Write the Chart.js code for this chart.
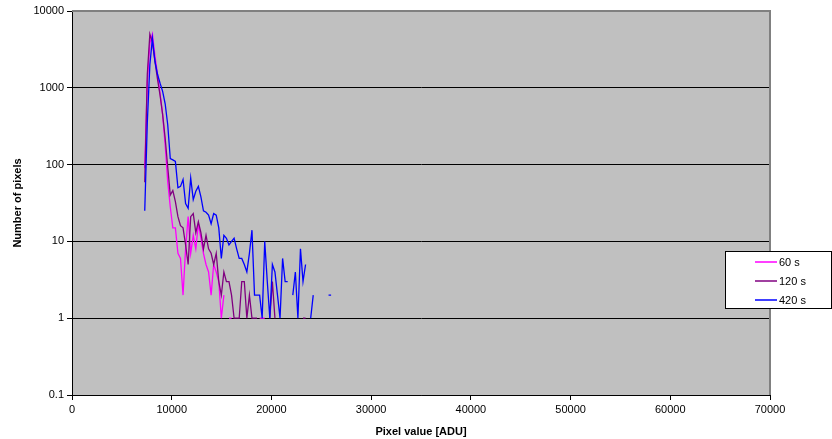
<!DOCTYPE html>
<html>
<head>
<meta charset="utf-8">
<script src="https://cdn.jsdelivr.net/npm/chart.js@4.4.0/dist/chart.umd.min.js"></script>
<style>
  html, body { margin: 0; padding: 0; background: #fff; }
</style>
</head>
<body>
<canvas id="hist" width="832" height="439"></canvas>
<script>
// histogram bin centres (ADU), 256 ADU wide
const binAdu = [
  7296, 7552, 7808, 8064, 8320, 8576, 8832, 9088, 9344, 9600,
  9856, 10112, 10368, 10624, 10880, 11136, 11392, 11648, 11904, 12160,
  12416, 12672, 12928, 13184, 13440, 13696, 13952, 14208, 14464, 14720,
  14976, 15232, 15488, 15744, 16000, 16256, 16512, 16768, 17024, 17280,
  17536, 17792, 18048, 18304, 18560, 18816, 19072, 19328, 19584, 19840,
  20096, 20352, 20608, 20864, 21120, 21376, 21632, 21888, 22144, 22400,
  22656, 22912, 23168, 23424, 23680, 23936, 24192, 24448, 24704, 24960,
  25216, 25472, 25728, 25984
];

// pixel counts per bin, null = empty bin (no point on a log axis)
const counts60 = [
  90, 1200, 3800, 5000, 2600, 1500, 850, 450, 180, 60,
  28, 15, 15, 7, 6, 2, 8, 21, 7, 12,
  8, 17, 11, 7, 5, 4, 2, 5, 4, 3,
  1, 2, null, 1, 1, null, null, null, null, null,
  null, null, null, null, null, 1, 1, 1, null, null,
  null, null, null, null, null, null, null, null, null, null,
  null, null, null, null, null, null, null, null, null, null,
  null, null, null, null
];
const counts120 = [
  59, 1500, 5000, 3900, 2200, 1300, 800, 450, 220, 93,
  40, 46, 33, 21, 16, 15, 9, 5, 21, 23,
  13, 18, 13, 8, 12, 8, 7, 5, 7, 3,
  2, 4, 3, 3, 2, 1, 1, 1, 3, 3,
  1, 2, 1, 1, 1, null, null, null, null, 1,
  3, 1, null, null, null, null, null, null, null, null,
  null, null, 1, 1, null, null, null, null, null, null,
  null, null, null, null
];
const counts420 = [
  25, 350, 2000, 4400, 2200, 1500, 1150, 900, 620, 330,
  120, 115, 110, 50, 52, 64, 31, 27, 67, 35,
  45, 52, 38, 25, 24, 22, 17, 23, 22, 15,
  6, 12, 11, 9, 10, 11, 8, 6, 6, 5,
  4, 7, 14, 2, 2, 2, 1, 10, 3, 1,
  5, 4, 2, 1, 6, 3, 3, null, 2, 4,
  1, 8, 3, 5, null, 1, 2, null, null, null,
  null, null, 2, 2
];

const seriesNames = ['60 s', '120 s', '420 s'];
const seriesColors = ['#ff00ff', '#800080', '#0000ff'];
const yTicks = [0.1, 1, 10, 100, 1000, 10000];

const font = "'Liberation Sans', Arial, sans-serif";
Chart.defaults.font.family = font;
Chart.defaults.color = '#000';

function points(counts) {
  return binAdu.map((x, i) => ({ x: x, y: counts[i] }));
}

const plotBg = {
  id: 'plotBg',
  beforeDraw(chart) {
    const { ctx, chartArea: a } = chart;
    ctx.save();
    ctx.fillStyle = '#fff';
    ctx.fillRect(0, 0, chart.width, chart.height);
    ctx.fillStyle = '#c0c0c0';
    ctx.fillRect(a.left, a.top, a.right - a.left, a.bottom - a.top);
    ctx.restore();
  },
  afterDraw(chart) {
    const { ctx, chartArea: a } = chart;
    ctx.save();
    // grey frame on the top and right of the plot
    ctx.strokeStyle = '#808080';
    ctx.lineWidth = 2;
    ctx.beginPath();
    ctx.moveTo(a.left, a.top);
    ctx.lineTo(a.right, a.top);
    ctx.lineTo(a.right, a.bottom);
    ctx.stroke();

    // legend box
    const lx = 725.5, ly = 251.5, lw = 106, lh = 57;
    ctx.fillStyle = '#fff';
    ctx.fillRect(lx, ly, lw, lh);
    ctx.strokeStyle = '#000';
    ctx.lineWidth = 1;
    ctx.strokeRect(lx, ly, lw, lh);
    ctx.font = '11px ' + font;
    ctx.textBaseline = 'middle';
    ctx.fillStyle = '#000';
    chart.data.datasets.forEach((ds, i) => {
      const y = 262 + i * 19;
      ctx.strokeStyle = ds.borderColor;
      ctx.lineWidth = 1.5;
      ctx.beginPath();
      ctx.moveTo(755, y);
      ctx.lineTo(777, y);
      ctx.stroke();
      ctx.fillText(ds.label, 779, y + 0.5);
    });
    ctx.restore();
  }
};

new Chart(document.getElementById('hist').getContext('2d'), {
  type: 'line',
  data: {
    datasets: [
      { label: seriesNames[0], data: points(counts60), borderColor: seriesColors[0], order: 3 },
      { label: seriesNames[1], data: points(counts120), borderColor: seriesColors[1], order: 2 },
      { label: seriesNames[2], data: points(counts420), borderColor: seriesColors[2], order: 1 }
    ]
  },
  options: {
    responsive: false,
    animation: false,
    spanGaps: false,
    elements: {
      line: { borderWidth: 1.3, tension: 0, fill: false },
      point: { radius: 0, hoverRadius: 0 }
    },
    layout: { padding: { top: 11, right: 62, left: 0, bottom: 0 } },
    plugins: {
      legend: { display: false },
      tooltip: { enabled: false }
    },
    scales: {
      x: {
        type: 'linear',
        min: 0,
        max: 70000,
        afterFit(scale) { scale.height = 44; },
        ticks: {
          stepSize: 10000,
          maxRotation: 0,
          padding: 3,
          font: { size: 11 },
          callback: v => String(v)
        },
        grid: { drawOnChartArea: false, tickLength: 5, tickColor: '#000' },
        border: { color: '#000', width: 1 },
        title: {
          display: true,
          text: 'Pixel value [ADU]',
          font: { size: 11, weight: 'bold' },
          padding: { top: 0, bottom: 0 }
        }
      },
      y: {
        type: 'logarithmic',
        min: 0.1,
        max: 10000,
        afterFit(scale) { scale.width = 72; },
        afterBuildTicks(scale) { scale.ticks = yTicks.map(v => ({ value: v })); },
        ticks: {
          padding: 3,
          font: { size: 11 },
          callback: v => (v < 1 ? '0.1' : String(v))
        },
        grid: {
          color: ctx => (ctx.tick && ctx.tick.value === 10000 ? 'rgba(0,0,0,0)' : '#000'),
          tickLength: 5,
          tickColor: '#000'
        },
        border: { color: '#000', width: 1 },
        title: {
          display: true,
          text: 'Number of pixels',
          font: { size: 11, weight: 'bold' },
          padding: { top: 11, bottom: 0 }
        }
      }
    }
  },
  plugins: [plotBg]
});
</script>
</body>
</html>
